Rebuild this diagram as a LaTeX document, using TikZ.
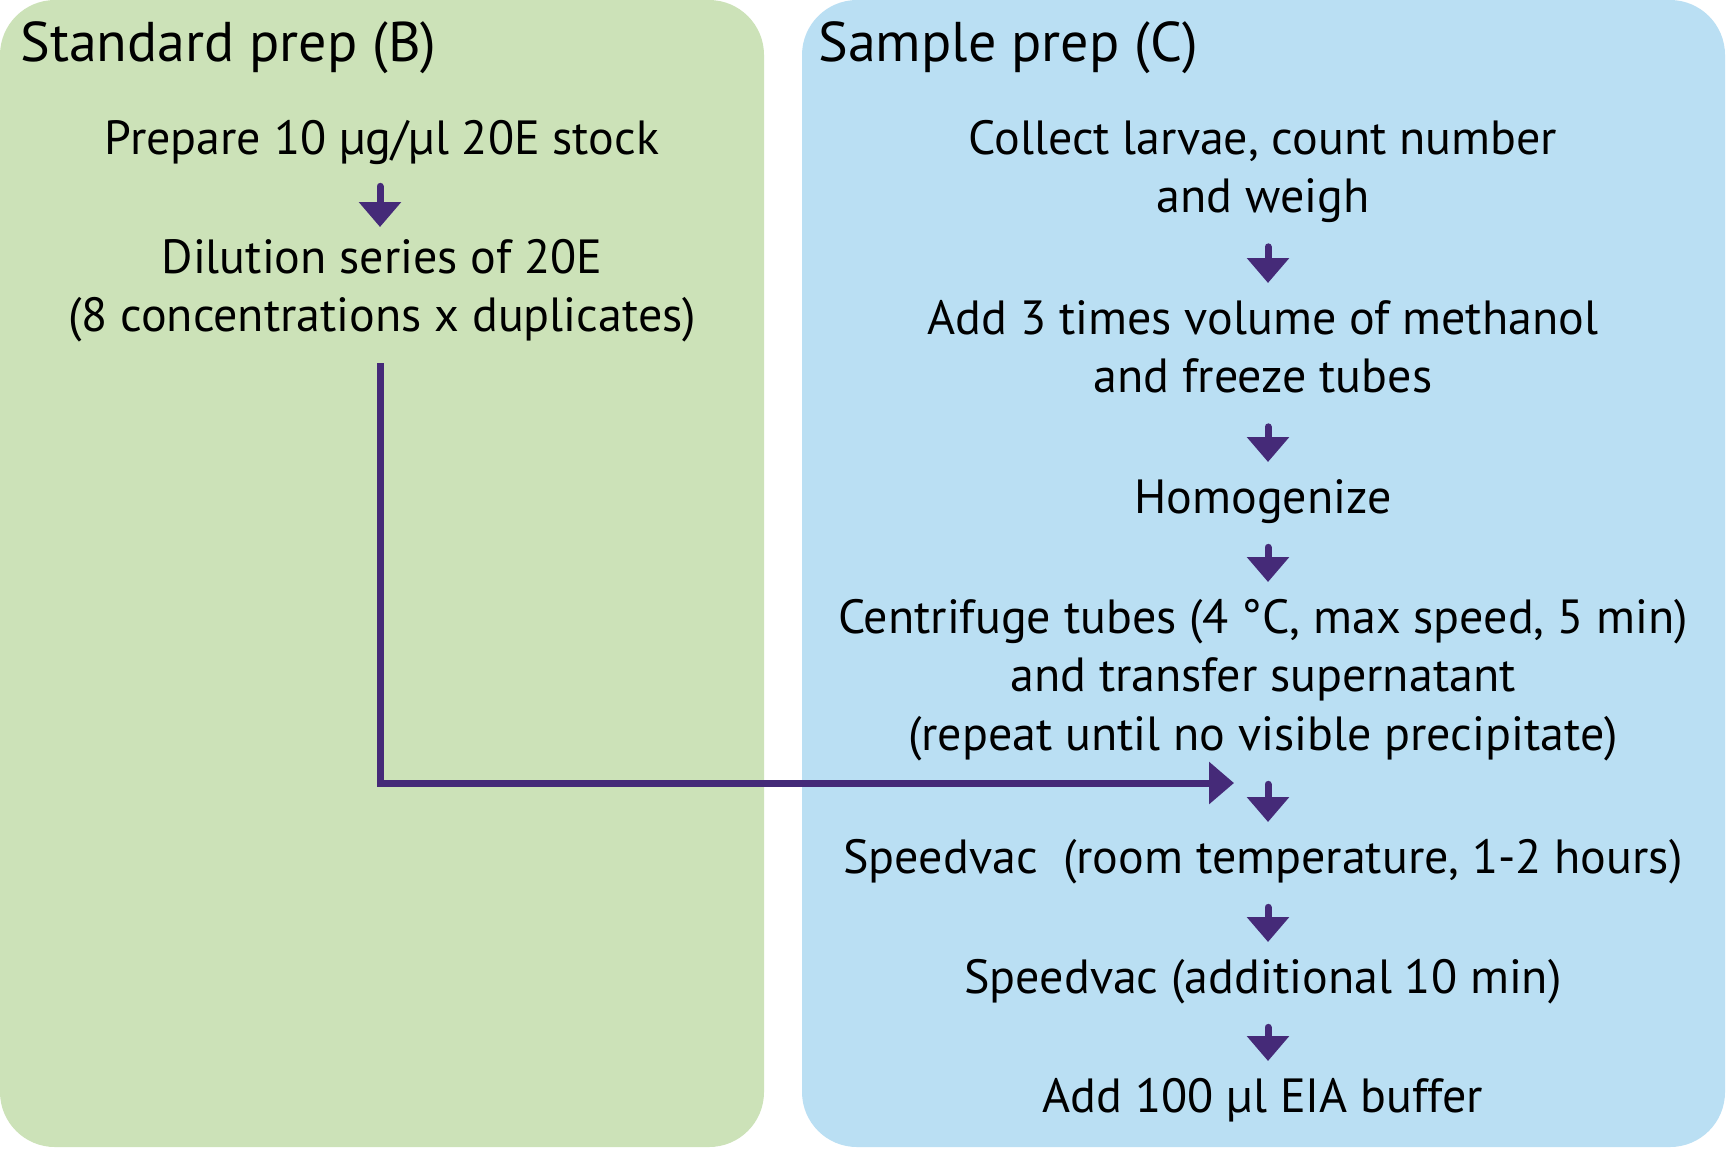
\documentclass[tikz,border=0pt]{standalone}
\usepackage{fontspec}
\setmainfont{PT Sans}
\usetikzlibrary{arrows.meta}
\definecolor{stdgreen}{RGB}{204,226,184}
\definecolor{smpblue}{RGB}{186,223,243}
\definecolor{flowpurple}{RGB}{69,42,120}
\tikzset{
  stage/.style={align=center, inner sep=0pt, anchor=north,
    font=\fontsize{24}{29.25}\selectfont},
  panel/.style={inner sep=0pt, anchor=base west, font=\fontsize{28}{32}\selectfont},
  flow/.style={line width=3.5pt, color=flowpurple, line cap=round,
    -{Triangle[length=12.5pt,width=20.5pt]}, shorten <=8pt, shorten >=5pt},
}
\begin{document}
\begin{tikzpicture}[x=0.5pt,y=-0.5pt]
      \useasboundingbox (0,0) rectangle (1727,1148);
      \fill[white] (0,0) rectangle (1727,1148);
      \fill[stdgreen, rounded corners=27.5pt] (0,0) rectangle (764,1147);
      \fill[smpblue, rounded corners=27.5pt] (802,0) rectangle (1725,1147);
      \draw
        (20,61) node[panel] (titleB){Standard prep (B)}
        (818,61) node[panel] (titleC){Sample prep (C)}
        (382,113) node[stage] (stock){\strut Prepare 10 µg/µl 20E stock\strut}
        (382,232) node[stage] (dil){\strut Dilution series of 20E\\(8 concentrations x duplicates)\strut}
        (1263,113) node[stage] (collect){\strut Collect larvae, count number\\and weigh\strut}
        (1263,293) node[stage] (methanol){\strut Add 3 times volume of methanol\\and freeze tubes\strut}
        (1263,472) node[stage] (homog){\strut Homogenize\strut}
        (1263,592) node[stage] (centri){\strut Centrifuge tubes (4 °C, max speed, 5 min)\\and transfer supernatant\\(repeat until no visible precipitate)\strut}
        (1263,832) node[stage] (speed1){\strut Speedvac\ \ (room temperature, 1-2 hours)\strut}
        (1263,952) node[stage] (speed2){\strut Speedvac (additional 10 min)\strut}
        (1263,1071) node[stage] (eia){\strut Add 100 µl EIA buffer\strut};
      \coordinate (feed) at (1234,783);
      \begin{scope}[flow]
        \draw[shorten <=7pt, shorten >=2.5pt] ([xshift=-1pt]stock.south) to ([xshift=-1pt]dil.north);
        \draw ([xshift=2.5pt]collect.south) to ([xshift=2.5pt]methanol.north);
        \draw ([xshift=2.5pt]methanol.south) to ([xshift=2.5pt]homog.north);
        \draw ([xshift=2.5pt]homog.south) to ([xshift=2.5pt]centri.north);
        \draw ([xshift=2.5pt]centri.south) to ([xshift=2.5pt]speed1.north);
        \draw ([xshift=2.5pt]speed1.south) to ([xshift=2.5pt]speed2.north);
        \draw ([xshift=2.5pt]speed2.south) to ([xshift=2.5pt]eia.north);
        \draw[line cap=butt, shorten <=6.75pt, shorten >=0pt] ([xshift=-1pt]dil.south) |- (feed);
      \end{scope}
    \end{tikzpicture}
\end{document}
